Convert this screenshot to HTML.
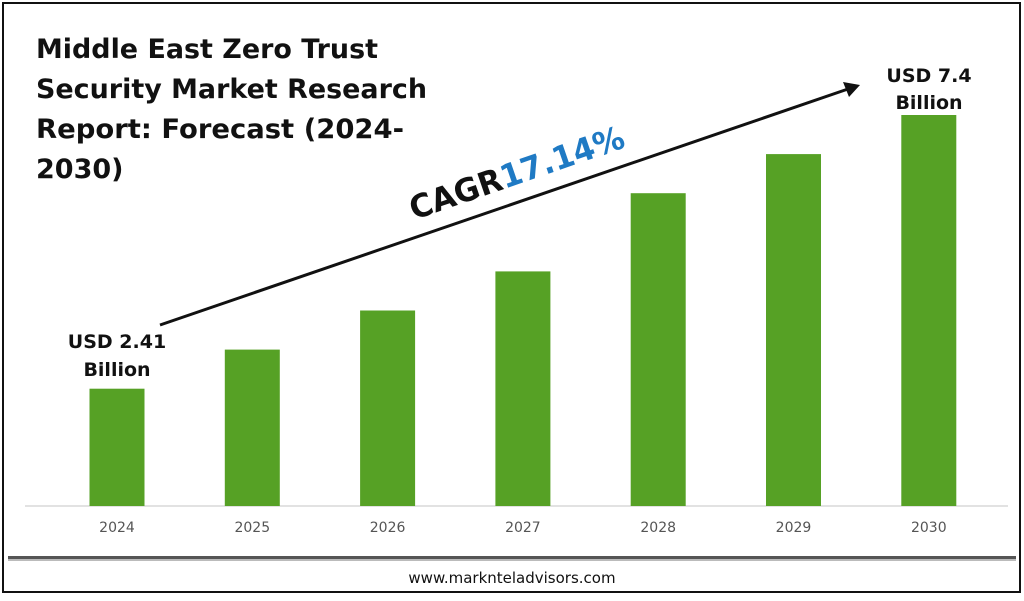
<!DOCTYPE html>
<html><head><meta charset="utf-8"><style>
body{margin:0;background:#fff;}
svg text{font-family:"DejaVu Sans","Liberation Sans",sans-serif;}
</style></head><body>
<svg width="1024" height="596" viewBox="0 0 1024 596" xmlns="http://www.w3.org/2000/svg">
<rect x="3" y="3" width="1017" height="589" fill="#fff" stroke="#111" stroke-width="2"/>
<g font-weight="bold" font-size="27" fill="#111">
<text x="36" y="58" textLength="342" lengthAdjust="spacingAndGlyphs">Middle East Zero Trust</text>
<text x="36" y="98" textLength="391" lengthAdjust="spacingAndGlyphs">Security Market Research</text>
<text x="36" y="138" textLength="368" lengthAdjust="spacingAndGlyphs">Report: Forecast (2024-</text>
<text x="36" y="178">2030)</text>
</g>
<line x1="25" y1="506" x2="1008" y2="506" stroke="#d9d9d9" stroke-width="1.5"/>
<g id="bars"></g>
<g id="xlabels"></g>
<line x1="160" y1="325" x2="848" y2="89" stroke="#111" stroke-width="3"/>
<polygon points="860,85 843,82 849,97" fill="#111"/>
<text x="0" y="0" transform="translate(414,220) rotate(-19)" font-size="32" font-weight="bold" textLength="225" lengthAdjust="spacingAndGlyphs"><tspan fill="#111">CAGR</tspan><tspan fill="#1f7ac4">17.14%</tspan></text>
<g font-size="19" font-weight="bold" fill="#111" text-anchor="middle">
<text x="117" y="348">USD 2.41</text><text x="117" y="376">Billion</text></g>
<g font-size="19" font-weight="bold" fill="#111" text-anchor="middle">
<text x="929" y="82">USD 7.4</text><text x="929" y="109">Billion</text></g>
<rect x="8" y="556" width="1008" height="3" fill="#555"/>
<rect x="8" y="559" width="1008" height="2" fill="#bbb"/>
<text x="512" y="583" text-anchor="middle" font-size="15" fill="#111">www.marknteladvisors.com</text>
</svg>
<script>
const categories=["2024","2025","2026","2027","2028","2029","2030"];
const values=[3.0,4.0,5.0,6.0,8.0,9.0,10.0];
const yMax=10;
const base=506, plotH=391, x0=117, step=135.3, bw=55;
const yScale=v=>plotH*v/yMax;
const xScale=i=>x0+i*step;
const NS="http://www.w3.org/2000/svg";
const gb=document.getElementById('bars'), gl=document.getElementById('xlabels');
categories.forEach((c,i)=>{
 const h=yScale(values[i]);
 const r=document.createElementNS(NS,'rect');
 r.setAttribute('x',xScale(i)-bw/2);r.setAttribute('y',base-h);
 r.setAttribute('width',bw);r.setAttribute('height',h);r.setAttribute('fill','#56a125');
 
 
 gb.appendChild(r);
 const t=document.createElementNS(NS,'text');
 t.setAttribute('x',xScale(i));t.setAttribute('y',532);t.setAttribute('text-anchor','middle');
 t.setAttribute('font-size','14');t.setAttribute('fill','#555');t.textContent=c;
 
 
 gl.appendChild(t);
});
</script>
</body></html>
